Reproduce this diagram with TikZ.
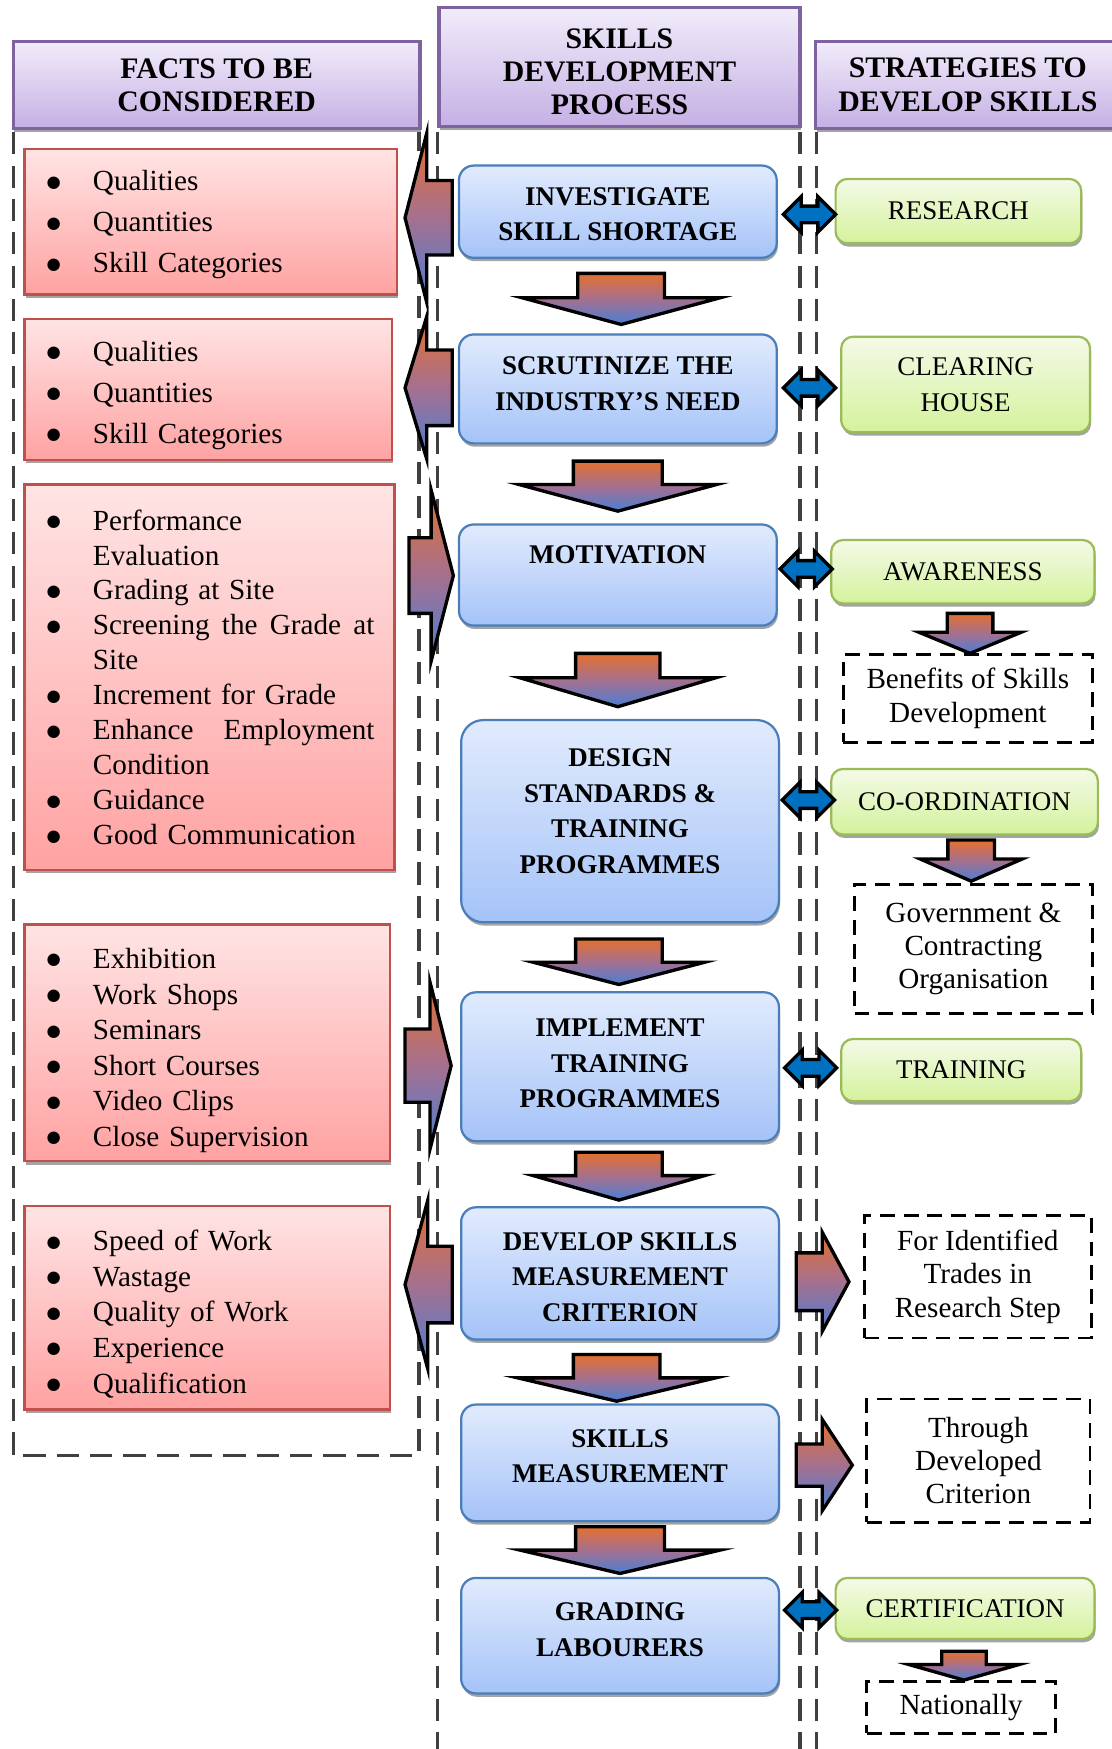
\documentclass[tikz,border=0pt]{standalone}
\usepackage{fontspec}
\setmainfont{Liberation Serif}
\newfontfamily\bulletfont{DejaVu Sans}
\usetikzlibrary{shadows}

\definecolor{hdrtop}{HTML}{F1ECFA}
\definecolor{hdrbot}{HTML}{C5B0E4}
\definecolor{hdrline}{HTML}{7F63A1}
\definecolor{facttop}{HTML}{FFE4E4}
\definecolor{factbot}{HTML}{FFA2A2}
\definecolor{factline}{HTML}{C0504D}
\definecolor{proctop}{HTML}{E1EBFD}
\definecolor{procbot}{HTML}{A5C3F8}
\definecolor{procline}{HTML}{4A7EBB}
\definecolor{strattop}{HTML}{F4FAE8}
\definecolor{stratbot}{HTML}{D4F29C}
\definecolor{stratline}{HTML}{9BBB59}
\definecolor{arrtop}{HTML}{E4702E}
\definecolor{arrmid}{HTML}{A5708F}
\definecolor{arrbot}{HTML}{4A7FD4}
\definecolor{dblblue}{HTML}{0070C0}
\definecolor{framegray}{HTML}{404040}

% down block arrow: centre x, top, shoulder, tip, half stem, half head
\newcommand{\dnarrow}[6]{\draw[blockarr] (#1-#5,#2) -- (#1+#5,#2) -- (#1+#5,#3) -- (#1+#6,#3) -- (#1,#4) -- (#1-#6,#3) -- (#1-#5,#3) -- cycle;}
% side block arrow: tip x, centre y, head back x, tail x, half head, half body
\newcommand{\sidearrow}[6]{\draw[blockarr] (#1,#2) -- (#3,#2-#5) -- (#3,#2-#6) -- (#4,#2-#6) -- (#4,#2+#6) -- (#3,#2+#6) -- (#3,#2+#5) -- cycle;}
% double headed arrow: left tip x, centre y
\newcommand{\dblarrow}[2]{\draw[dblarr] (#1,#2) -- (#1+16,#2-16) -- (#1+16,#2-7.5) -- (#1+31,#2-7.5) -- (#1+31,#2-16) -- (#1+47,#2) -- (#1+31,#2+16) -- (#1+31,#2+7.5) -- (#1+16,#2+7.5) -- (#1+16,#2+16) -- cycle;}
% list lines in the fact boxes
\newcommand{\fitem}[1]{\makebox[32.25pt][l]{\hspace{1pt}\raisebox{2.5pt}{\bulletfont\fontsize{11}{11}\selectfont ●}}#1}
\newcommand{\fcont}[1]{\hspace*{32.25pt}#1}

\begin{document}
\begin{tikzpicture}[x=0.75pt,y=0.75pt,yscale=-1,xscale=1,
  boxshadow/.style={drop shadow={shadow xshift=0.75pt,shadow yshift=-2.25pt,fill=black!45,opacity=0.8}},
  header/.style={draw=hdrline, line width=2.25pt, top color=hdrtop, bottom color=hdrbot, align=center, font=\fontsize{20.1}{22.5}\selectfont\bfseries, boxshadow},
  factbox/.style={draw=factline, line width=1.5pt, top color=facttop, bottom color=factbot, inner xsep=14pt, align=left, font=\fontsize{19.7}{24}\selectfont, boxshadow},
  procbox/.style={draw=procline, line width=1.5pt, rounded corners=10pt, top color=proctop, bottom color=procbot, align=center, font=\fontsize{18.2}{24}\selectfont\bfseries, boxshadow},
  stratbox/.style={draw=stratline, line width=1.5pt, rounded corners=8pt, top color=strattop, bottom color=stratbot, align=center, font=\fontsize{18.2}{24}\selectfont, boxshadow},
  notebox/.style={draw=black, line width=1.8pt, dash pattern=on 10pt off 6pt, align=center, font=\fontsize{19.7}{22.5}\selectfont},
  colframe/.style={draw=framegray, line width=2.25pt, dash pattern=on 15pt off 7.5pt},
  blockarr/.style={draw=black, line width=2.25pt, line join=miter, top color=arrtop, bottom color=arrbot, middle color=arrmid},
  dblarr/.style={draw=black, line width=2.25pt, line join=miter, fill=dblblue}]
\useasboundingbox (0,0) rectangle (1000,1574);

%Dashed Lines [id:fr1] 
\draw[colframe]    (12,119) -- (12,1310) -- (377,1310) -- (377,119) ;
%Dashed Lines [id:fr2] 
\draw[colframe]    (394,119) -- (394,1590) ;
\draw[colframe]    (720,119) -- (720,1590) ;
%Dashed Lines [id:fr3] 
\draw[colframe]    (735,119) -- (735,1590) ;

%Headers [id:hd1] 
\node[header, minimum width=274.5pt, minimum height=58.5pt] (hfacts) at (195,76.5) {FACTS TO BE\\CONSIDERED};
\node[header, minimum width=243.75pt, minimum height=80.25pt] (hprocess) at (557.5,60.5) {\mbox{}\\[-3pt]SKILLS\\DEVELOPMENT\\PROCESS};
\node[header, minimum width=205.5pt, minimum height=58.5pt] (hstrategy) at (871,76.5) {STRATEGIES TO\\DEVELOP SKILLS};

%Fact Boxes [id:fb1] 
\node[factbox, minimum width=251.25pt, minimum height=98.25pt, text width=223.25pt, font=\fontsize{19.7}{27.75}\selectfont] (fshortage) at (189.5,199.5) {\rule{0pt}{18pt}\fitem{Qualities}\\\fitem{Quantities}\\\fitem{Skill Categories}};
\node[factbox, minimum width=248.25pt, minimum height=95.25pt, text width=220.25pt, font=\fontsize{19.7}{27.75}\selectfont] (fneed) at (187.5,350.5) {\rule{0pt}{21.5pt}\fitem{Qualities}\\\fitem{Quantities}\\\fitem{Skill Categories}};
\node[factbox, minimum width=249.75pt, minimum height=260.25pt, text width=221.75pt, font=\fontsize{19.7}{23.6}\selectfont] (fmotive) at (188.5,609.5) {\fitem{Performance}\\\fcont{Evaluation}\\\fitem{Grading at Site}\\\fitem{\hbox to 190pt{Screening\hfill the\hfill Grade\hfill at}}\\\fcont{Site}\\\fitem{Increment for Grade}\\\fitem{\hbox to 190pt{Enhance\hfill Employment}}\\\fcont{Condition}\\\fitem{Guidance}\\\fitem{Good Communication}};
\node[factbox, minimum width=246.75pt, minimum height=159.75pt, text width=218.75pt] (ftrain) at (186.5,938.5) {\rule{0pt}{24pt}\fitem{Exhibition}\\\fitem{Work Shops}\\\fitem{Seminars}\\\fitem{Short Courses}\\\fitem{Video Clips}\\\fitem{Close Supervision}};
\node[factbox, minimum width=246.75pt, minimum height=137.25pt, text width=218.75pt] (fmeasure) at (186.5,1177) {\rule{0pt}{22.2pt}\fitem{Speed of Work}\\\fitem{Wastage}\\\fitem{Quality of Work}\\\fitem{Experience}\\\fitem{Qualification}};

%Process Boxes [id:pb1] 
\node[procbox, minimum width=214.5pt, minimum height=62.25pt] (investigate) at (556,190.5) {\mbox{}\\[-8.75pt]INVESTIGATE\\SKILL SHORTAGE};
\node[procbox, minimum width=214.5pt, minimum height=73.5pt] (scrutinize) at (556,350) {SCRUTINIZE THE\\INDUSTRY’S NEED\\[-16.5pt]\mbox{}};
\node[procbox, minimum width=214.5pt, minimum height=68.25pt] (motivation) at (556,517.5) {MOTIVATION\\[3.8pt]\mbox{}};
\node[procbox, minimum width=214.5pt, minimum height=136.5pt, rounded corners=15pt] (design) at (558,739) {DESIGN\\STANDARDS \&\\TRAINING\\PROGRAMMES\\[-10.5pt]\mbox{}};
\node[procbox, minimum width=214.5pt, minimum height=100.5pt] (implement) at (558,960) {IMPLEMENT\\TRAINING\\PROGRAMMES\\[-19.5pt]\mbox{}};
\node[procbox, minimum width=214.5pt, minimum height=89.25pt] (criterion) at (558,1146) {\mbox{}\\[-7pt]DEVELOP SKILLS\\MEASUREMENT\\CRITERION};
\node[procbox, minimum width=214.5pt, minimum height=78.75pt] (measurement) at (558,1316.5) {SKILLS\\MEASUREMENT\\[-15pt]\mbox{}};
\node[procbox, minimum width=214.5pt, minimum height=78pt] (grading) at (558,1472) {GRADING\\LABOURERS\\[-16pt]\mbox{}};

%Strategy Boxes [id:sb1] 
\node[stratbox, minimum width=165.75pt, minimum height=43.5pt] (research) at (862.5,190) {RESEARCH};
\node[stratbox, minimum width=168pt, minimum height=64.5pt] (clearing) at (869,346) {CLEARING\\HOUSE};
\node[stratbox, minimum width=177.75pt, minimum height=42.75pt] (awareness) at (866.5,514.5) {AWARENESS};
\node[stratbox, minimum width=180pt, minimum height=44.25pt] (coordination) at (868,721.5) {CO-ORDINATION};
\node[stratbox, minimum width=162pt, minimum height=42pt] (training) at (865,963) {TRAINING};
\node[stratbox, minimum width=174.75pt, minimum height=41.25pt] (certification) at (868.5,1447.5) {CERTIFICATION};

%Dashed Boxes [id:nb1] 
\node[notebox, minimum width=168pt, minimum height=59.25pt] (benefits) at (871,628.5) {Benefits of Skills\\Development};
\node[notebox, minimum width=160.5pt, minimum height=87pt] (government) at (876,854) {Government \&\\Contracting\\Organisation};
\node[notebox, minimum width=153pt, minimum height=82.5pt] (trades) at (880,1149) {For Identified\\Trades in\\Research Step};
\node[notebox, minimum width=150.75pt, minimum height=83.25pt] (developed) at (880.5,1314.5) {Through\\Developed\\Criterion};
\node[notebox, minimum width=127.5pt, minimum height=35.25pt] (nationally) at (865,1536.5) {Nationally};

%Down Arrows [id:da1] 
\dnarrow{559}{246}{268}{292}{39}{89}
\dnarrow{556}{415}{436}{460}{40}{89}
\dnarrow{556}{588}{610}{636}{38}{88}
\dnarrow{557}{845}{866}{886}{39}{77}
\dnarrow{557}{1037}{1058}{1080}{39}{77}
\dnarrow{555}{1219}{1240}{1261}{39}{89}
\dnarrow{558}{1374}{1395}{1416}{40}{90}
\dnarrow{873}{552}{569}{588}{20.5}{46}
\dnarrow{874}{756}{773}{793}{21}{46}
\dnarrow{867.5}{1486}{1498}{1512}{20}{49.5}

%Side Arrows [id:sa1] 
\sidearrow{364.5}{196}{384}{407}{76}{33.5}
\sidearrow{364.5}{349}{384}{407}{64}{34}
\sidearrow{408}{518}{388}{368}{77}{34}
\sidearrow{406}{959}{387}{364.5}{75}{33}
\sidearrow{364.5}{1156}{385}{407}{76}{34.5}
\sidearrow{764}{1153.5}{740}{716.5}{44.5}{26}
\sidearrow{767}{1318.5}{740}{716.5}{41}{19}

%Double Arrows [id:dd1] 
\dblarrow{705}{193}
\dblarrow{705}{349}
\dblarrow{702}{512}
\dblarrow{704}{720}
\dblarrow{706}{961}
\dblarrow{706}{1449}

\end{tikzpicture}
\end{document}
